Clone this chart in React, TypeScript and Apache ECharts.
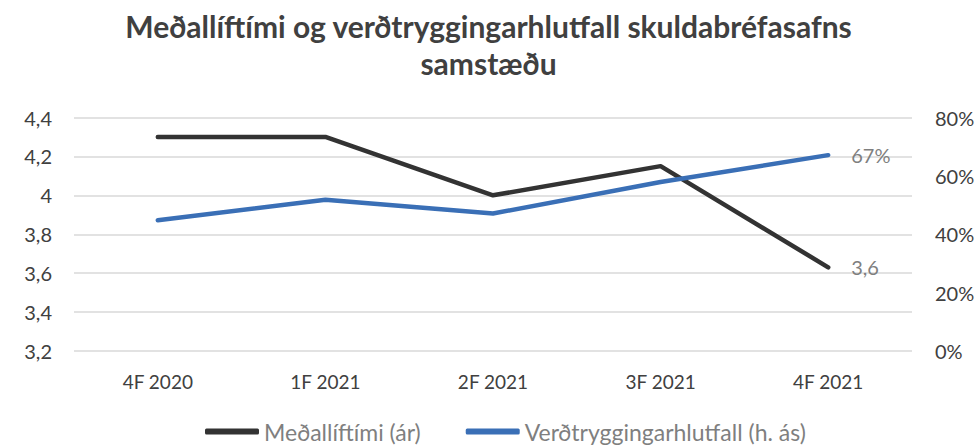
import React, { useEffect, useRef } from "react";
import * as echarts from "echarts";

const categories = ["4F 2020", "1F 2021", "2F 2021", "3F 2021", "4F 2021"];
const durationYears = [4.3, 4.3, 4.0, 4.15, 3.63];
const indexedSharePct = [44.8, 51.8, 47.1, 57.9, 67.1];
const seriesNames = ["Meðallíftími (ár)", "Verðtryggingarhlutfall (h. ás)"];
const titleText = "Meðallíftími og verðtryggingarhlutfall skuldabréfasafns\nsamstæðu";

const FONT = "Lato, 'Open Sans', sans-serif";
const TEXT = "#404040";
const LABEL_GRAY = "#7f7f7f";

export default function App() {
  const ref = useRef<HTMLDivElement>(null);
  useEffect(() => {
    if (!ref.current) return;
    const chart = echarts.init(ref.current, null, { renderer: "svg" });
    const fmtDec = (v: number) => String(Math.round(v * 10) / 10).replace(".", ",");
    chart.setOption({
      animation: false,
      textStyle: { fontFamily: FONT },
      title: {
        text: titleText,
        left: "center",
        top: 2,
        textStyle: {
          fontFamily: FONT,
          fontSize: 30,
          fontWeight: "bold",
          color: TEXT,
          lineHeight: 37,
        },
      },
      legend: {
        left: 200,
        top: 413,
        itemWidth: 54,
        itemHeight: 6,
        itemGap: 45,
        icon: "roundRect",
        data: seriesNames,
        textStyle: { fontFamily: FONT, fontSize: 23, color: LABEL_GRAY, lineHeight: 27 },
      },
      grid: { left: 74, right: 65, top: 117.5, bottom: 95, outerBoundsMode: "none", containLabel: false },
      xAxis: {
        type: "category",
        data: categories,
        boundaryGap: true,
        axisLine: { show: false },
        axisTick: { show: false },
        axisLabel: { color: TEXT, fontSize: 19, fontFamily: FONT, margin: 21 },
      },
      yAxis: [
        {
          type: "value",
          min: 3.2,
          max: 4.4,
          interval: 0.2,
          axisLine: { show: false },
          axisTick: { show: false },
          splitLine: { lineStyle: { color: "#d9d9d9", width: 1.5 } },
          axisLabel: { color: TEXT, fontSize: 20, fontFamily: FONT, margin: 22, formatter: (v: number) => fmtDec(v) },
        },
        {
          type: "value",
          min: 0,
          max: 80,
          interval: 20,
          axisLine: { show: false },
          axisTick: { show: false },
          splitLine: { show: false },
          axisLabel: { color: TEXT, fontSize: 20, fontFamily: FONT, margin: 23, formatter: (v: number) => Math.round(v) + "%" },
        },
      ],
      series: [
        {
          name: seriesNames[0],
          type: "line",
          yAxisIndex: 0,
          data: durationYears,
          symbol: "none",
          color: "#333333",
          lineStyle: { width: 4.5, color: "#333333", cap: "round", join: "round" },
          endLabel: {
            show: true,
            distance: 23,
            color: LABEL_GRAY,
            fontSize: 20,
            fontFamily: FONT,
            formatter: (p: any) => fmtDec(p.value),
          },
        },
        {
          name: seriesNames[1],
          type: "line",
          yAxisIndex: 1,
          data: indexedSharePct,
          symbol: "none",
          color: "#3a6fb6",
          lineStyle: { width: 4.5, color: "#3a6fb6", cap: "round", join: "round" },
          endLabel: {
            show: true,
            distance: 23,
            color: LABEL_GRAY,
            fontSize: 20,
            fontFamily: FONT,
            formatter: (p: any) => Math.round(p.value) + "%",
          },
        },
      ],
    });
    return () => chart.dispose();
  }, []);
  return <div ref={ref} style={{ position: "fixed", left: 0, top: 0, width: 977, height: 446, background: "#fff" }} />;
}
